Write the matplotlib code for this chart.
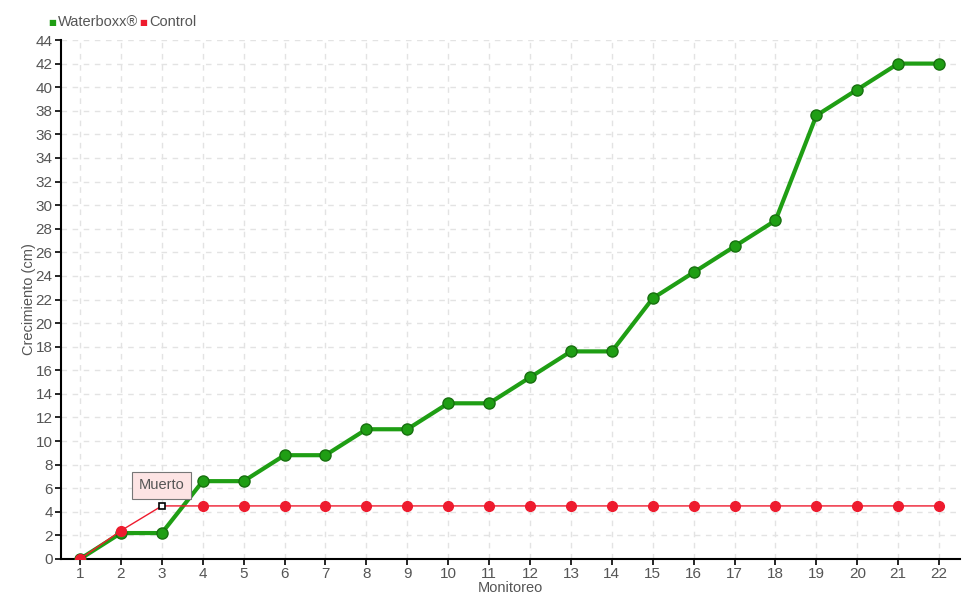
import matplotlib
matplotlib.use("Agg")
import matplotlib.pyplot as plt
from matplotlib import font_manager

names = {f.name for f in font_manager.fontManager.ttflist}
fam = "Liberation Sans Narrow" if "Liberation Sans Narrow" in names else "Liberation Sans"
plt.rcParams['font.family'] = [fam, 'DejaVu Sans']

monitoreo = list(range(1, 23))
waterboxx = [0, 2.2, 2.2, 6.6, 6.6, 8.8, 8.8, 11.0, 11.0, 13.2, 13.2, 15.4, 17.6, 17.6,
             22.1, 24.3, 26.5, 28.7, 37.6, 39.8, 42.0, 42.0]
control = [0, 2.4, 4.5] + [4.5] * 19
muerto_idx = 2
yticks = list(range(0, 45, 2))

green = "#1f9e14"
red = "#ee1b2e"
textc = "#555555"
fs = 10.5

fig = plt.figure(figsize=(9.8, 6.0), dpi=100)
ax = fig.add_axes([61/980, 1 - 559/600, 899/980, 519/600])

ax.plot(monitoreo, waterboxx, color=green, lw=3, marker='o', ms=8,
        mfc=green, mec="#17700f", mew=1, zorder=3)
ax.plot(monitoreo, control, color=red, lw=1, marker='o', ms=7,
        mfc=red, mec=red, zorder=4, markevery=[i for i in range(len(control)) if i != muerto_idx])
ax.plot([monitoreo[muerto_idx]], [control[muerto_idx]], marker='s', ms=5,
        mfc='white', mec='black', mew=1.2, ls='none', zorder=5)

ax.annotate("Muerto", xy=(monitoreo[muerto_idx], control[muerto_idx]),
            xytext=(0, 15), textcoords='offset points', ha='center', va='center',
            fontsize=fs, color=textc,
            bbox=dict(boxstyle='square,pad=0.45', fc='#fde4e4', ec='#777777', lw=0.8),
            zorder=6)

ax.set_xlim(0.535, 22.51)
ax.set_ylim(0, 44)
ax.set_xticks(monitoreo)
ax.set_yticks(yticks)
ax.tick_params(axis='both', colors='black', labelcolor=textc, labelsize=11, length=4, width=1.2, pad=2)
ax.grid(True, color='#e3e3e3', ls=(0, (4, 4)), lw=1)
ax.set_axisbelow(True)
for s in ['top', 'right']:
    ax.spines[s].set_visible(False)
for s in ['left', 'bottom']:
    ax.spines[s].set_linewidth(1.5)
ax.set_xlabel("Monitoreo", color=textc, fontsize=fs, labelpad=0)
ax.set_ylabel("Crecimiento (cm)", color=textc, fontsize=fs, labelpad=0)

# legend
fig.text(48/980, 1 - 22/600, "■", color=green, fontsize=6, va='center', ha='left', family='DejaVu Sans')
fig.text(58/980, 1 - 22/600, "Waterboxx®", color=textc, fontsize=fs, va='center', ha='left')
fig.text(139/980, 1 - 22/600, "■", color=red, fontsize=6, va='center', ha='left', family='DejaVu Sans')
fig.text(149/980, 1 - 22/600, "Control", color=textc, fontsize=fs, va='center', ha='left')

fig.savefig("out.png", dpi=100)
